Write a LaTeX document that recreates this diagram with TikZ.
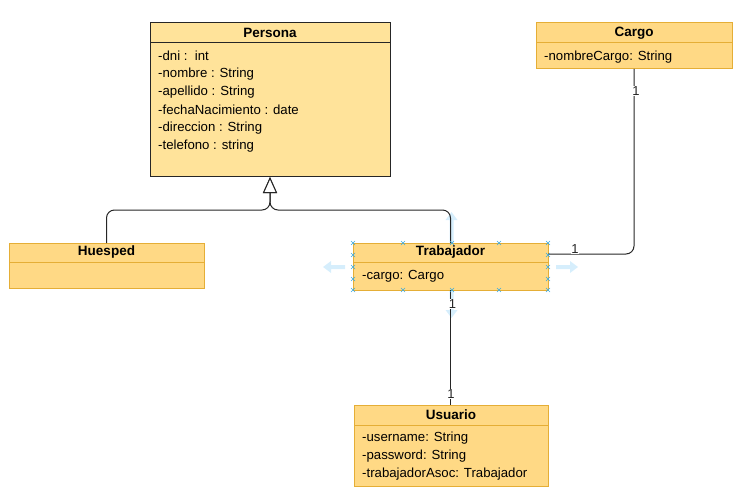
\documentclass[tikz,border=0pt]{standalone}
\usepackage{fontspec}
\setmainfont{Liberation Sans}
\usetikzlibrary{arrows.meta}
\definecolor{pfill}{HTML}{FFE39A}
\definecolor{cfill}{HTML}{FFD985}
\definecolor{cstroke}{HTML}{E5AE36}
\definecolor{selblue}{HTML}{D6EEFC}
\definecolor{handle}{HTML}{3AAAE0}
\tikzset{
  classbox/.style={rectangle, draw=cstroke, fill=cfill, line width=1pt, inner sep=0pt, outer sep=0pt, anchor=north west},
  personabox/.style={classbox, draw=black!85, fill=pfill},
  title/.style={font=\fontsize{13.5}{15}\selectfont\bfseries, inner sep=0pt, text=black},
  attr/.style={font=\fontsize{13.2}{15}\selectfont, inner sep=0pt, anchor=west, text=black},
  conn/.style={line width=1pt, draw=black!85, rounded corners=8pt},
  mult/.style={font=\fontsize{13}{15}\selectfont, fill=white, inner sep=0.5pt, text=black!85},
  xmark/.style={draw=handle, line width=0.6pt},
  selarrow/.style={fill=selblue, draw=none}
}
\begin{document}
\begin{tikzpicture}[x=1pt,y=-1pt]
\useasboundingbox (0,0) rectangle (738,497);
% Persona
\node[personabox, minimum width=240pt, minimum height=154pt] (persona) at (150,23) {};
\draw[draw=black!85, line width=1pt] (150,43) -- (390,43);
\node[title] (pt) at (270,33) {Persona};
\node[attr] (p1) at (158,56) {-dni :\ \ int};
\node[attr] (p2) at (158,74) {-nombre : String};
\node[attr] (p3) at (158,92) {-apellido : String};
\node[attr] (p4) at (158,110) {-fechaNacimiento : date};
\node[attr] (p5) at (158,128) {-direccion : String};
\node[attr] (p6) at (158,146) {-telefono : string};
% Cargo
\node[classbox, minimum width=196pt, minimum height=46pt] (cargo) at (536,23) {};
\draw[draw=cstroke, line width=1pt] (536,43) -- (732,43);
\node[title] (ct) at (634,33) {Cargo};
\node[attr] (c1) at (544,57) {-nombreCargo: String};
% Huesped
\node[classbox, minimum width=195pt, minimum height=45pt] (huesped) at (9,243) {};
\draw[draw=cstroke, line width=1pt] (9,262) -- (204,262);
\node[title] (ht) at (106.5,252.5) {Huesped};
% Trabajador
\node[classbox, minimum width=195pt, minimum height=47pt] (trab) at (353,243) {};
\draw[draw=cstroke, line width=1pt] (353,262) -- (548,262);
\node[title] (tt) at (450.5,252.5) {Trabajador};
\node[attr] (t1) at (362,276) {-cargo: Cargo};
% Usuario
\node[classbox, minimum width=194pt, minimum height=81pt] (usuario) at (354,405) {};
\draw[draw=cstroke, line width=1pt] (354,425) -- (548,425);
\node[title] (ut) at (451,414.5) {Usuario};
\node[attr] (u1) at (362,438) {-username: String};
\node[attr] (u2) at (362,456) {-password: String};
\node[attr] (u3) at (362,474) {-trabajadorAsoc: Trabajador};
% selection arrows (UI)
\fill[selarrow] (451.5,212) -- (457.5,220) -- (453.5,220) -- (453.5,243) -- (449.5,243) -- (449.5,220) -- (445.5,220) -- cycle;
\fill[selarrow] (451.5,318) -- (457.5,310) -- (453.5,310) -- (453.5,291) -- (449.5,291) -- (449.5,310) -- (445.5,310) -- cycle;
\fill[selarrow] (323,267) -- (331,261) -- (331,265) -- (345,265) -- (345,269) -- (331,269) -- (331,273) -- cycle;
\fill[selarrow] (578,267) -- (570,261) -- (570,265) -- (556,265) -- (556,269) -- (570,269) -- (570,273) -- cycle;
% generalization
\coordinate (gj) at (270,210);
\draw[conn, -{Triangle[length=16pt,width=14pt,fill=white,line width=1pt]}] (huesped.north) |- (gj) -- (persona.south);
\draw[conn, -{Triangle[length=16pt,width=14pt,fill=white,line width=1pt]}] (trab.north) |- (gj) -- (persona.south);
% Cargo - Trabajador
\draw[conn] (cargo.south) |- ([yshift=-11pt]trab.north east);
\node[mult] (m1) at (636,91) {1};
\node[mult] (m2) at (575,249) {1};
% Trabajador - Usuario
\draw[conn] (trab.south) -- (usuario.north -| trab.south);
\node[mult] (m3) at (452.5,304) {1};
\node[mult] (m4) at (451,394) {1};
% selection handles
\foreach \hx/\hy in {353/243,403/243,452/243,499/243,548/243,353/290,403/290,452/290,499/290,548/290,353/255,353/267,353/279,548/255,548/267,548/279}{
  \draw[xmark] (\hx-2,\hy-2) -- (\hx+2,\hy+2) (\hx-2,\hy+2) -- (\hx+2,\hy-2);
}
\end{tikzpicture}
\end{document}
